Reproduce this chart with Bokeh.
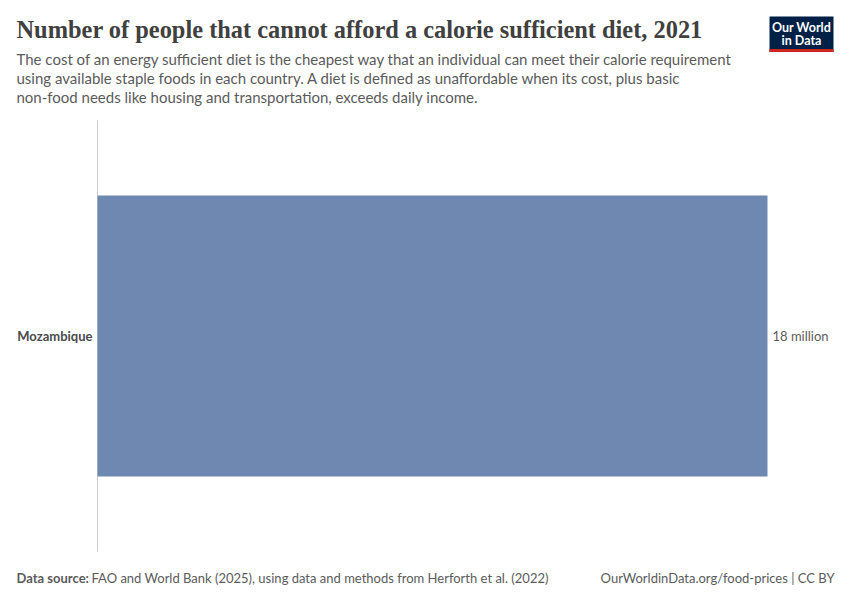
from bokeh.plotting import figure
from bokeh.models import Range1d, ColumnDataSource
from bokeh.embed import file_html
from bokeh.resources import INLINE
from bokeh.core.properties import value

countries = ["Mozambique"]
people = [18.0e6]
value_labels = ["18 million"]

title = "Number of people that cannot afford a calorie sufficient diet, 2021"
subtitle_lines = [
    "The cost of an energy sufficient diet is the cheapest way that an individual can meet their calorie requirement",
    "using available staple foods in each country. A diet is defined as unaffordable when its cost, plus basic",
    "non-food needs like housing and transportation, exceeds daily income.",
]
source_bold = "Data source:"
source_text = "FAO and World Bank (2025), using data and methods from Herforth et al. (2022)"
footer_right = "OurWorldinData.org/food-prices | CC BY"

W, H = 850, 600
# plot area in pixels (from left / from top)
AL, AR, AT, AB = 97, 767, 120, 551
n = len(countries)
xs = (AR - AL) / max(people)          # px per person
x_start, x_end = -AL / xs, (W - AL) / xs
ys = (AB - AT) / n                    # px per row
y_start, y_end = -(H - AB) / ys, n + AT / ys

ypos = [n - i - 0.5 for i in range(n)]
src = ColumnDataSource(dict(y=ypos, people=people, lab=value_labels, name=countries,
                            zero=[0] * n))

p = figure(width=W, height=H, output_backend="svg", toolbar_location=None,
           x_range=Range1d(x_start, x_end), y_range=Range1d(y_start, y_end),
           min_border=0)
p.extra_x_ranges = {"px": Range1d(0, W)}
p.extra_y_ranges = {"py": Range1d(H, 0)}
p.outline_line_color = None
p.grid.visible = False
p.axis.visible = False
p.background_fill_color = "white"
p.border_fill_color = "white"

# axis line
p.segment(x0=[0], x1=[0], y0=[0], y1=[n], line_color="#cccccc", line_width=1)

p.hbar(y="y", right="people", left="zero", height=0.652, source=src,
       fill_color="#6f88b1", line_color=None)
p.text(x="people", y="y", text="lab", source=src, x_offset=5,
       text_font=value("Lato"), text_font_size="13px", text_color="#5b5b5b",
       text_baseline="middle", text_align="left")
p.text(x="zero", y="y", text="name", source=src, x_offset=-5,
       text_font=value("Lato"), text_font_size="13px", text_color="#4a4a4a",
       text_font_style="bold", text_baseline="middle", text_align="right")

def lab(x, y, text, size, font="Lato", color="#5b5b5b", align="left", style="normal"):
    p.text(x=[x], y=[y], text=[text], x_range_name="px", y_range_name="py",
           text_font=value(font), text_font_size=size, text_color=color,
           text_align=align, text_baseline="middle", text_font_style=style)

lab(16, 29, title, "24.4px", font="Liberation Serif", color="#404040", style="bold")
for i, line in enumerate(subtitle_lines):
    lab(16, 58.7 + i * 18.7, line, "15px")
lab(16, 577, source_bold, "13px", style="bold")
lab(91, 577, source_text, "13px")
lab(834, 577, footer_right, "13px", align="right")

# logo
p.quad(left=[769], right=[833], top=[16], bottom=[51.5], x_range_name="px", y_range_name="py",
       fill_color="#002147", line_color=None)
p.quad(left=[769], right=[833], top=[48.5], bottom=[51.5], x_range_name="px", y_range_name="py",
       fill_color="#ce261e", line_color=None)
lab(801, 27, "Our World", "12.5px", color="white", align="center", style="bold")
lab(801, 39.5, "in Data", "12.5px", color="white", align="center", style="bold")

open("out.html", "w").write(file_html(p, INLINE))
